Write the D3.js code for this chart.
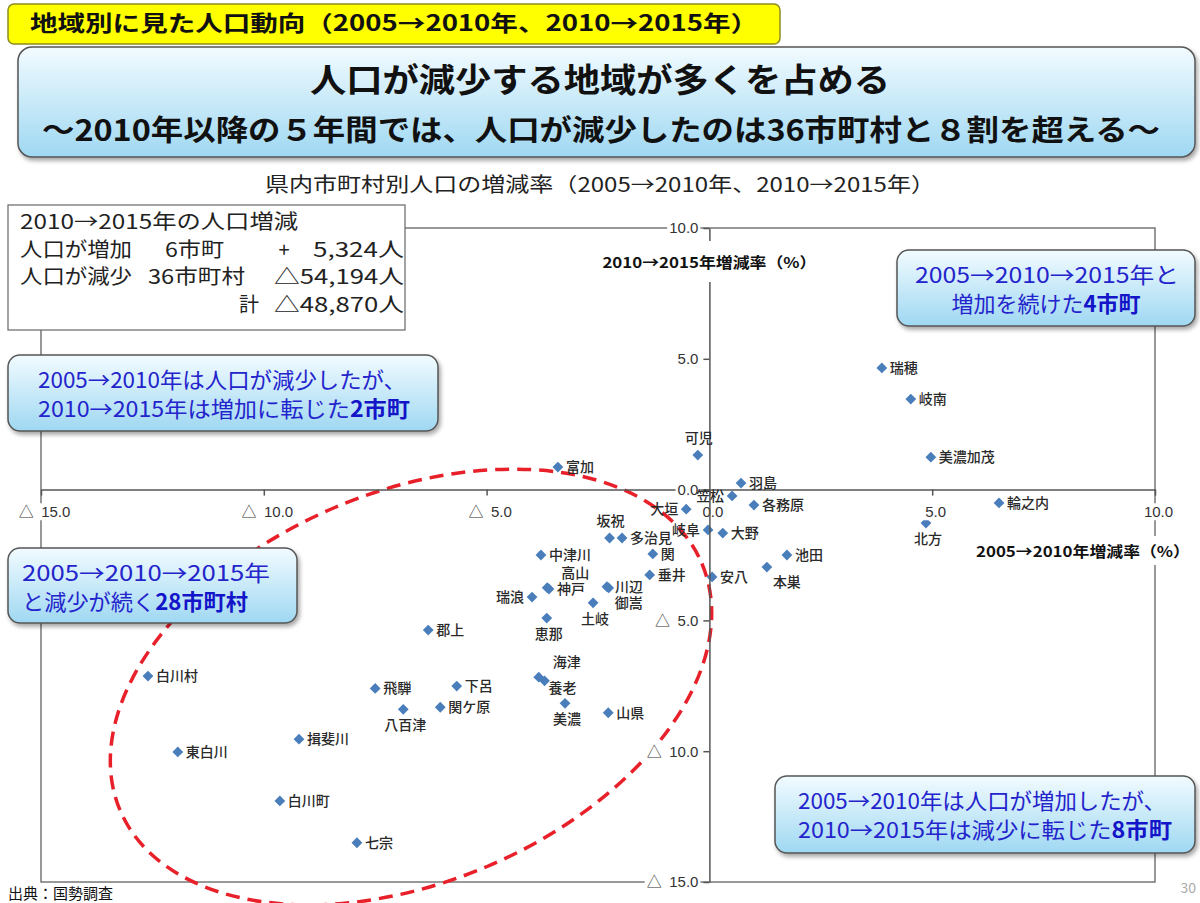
<!DOCTYPE html>
<html>
<head>
<meta charset="utf-8">
<script src="https://cdn.jsdelivr.net/npm/d3@7/dist/d3.min.js"></script>
<style>
  body { margin: 0; background: #fff; }
  svg { display: block; font-family: "Noto Sans CJK JP", "Noto Sans", sans-serif; }
</style>
</head>
<body>
<div id="chart"></div>
<script>
// municipalities, population change rate (%)
var names = ["瑞穂", "岐南", "美濃加茂", "羽島", "可児", "富加", "笠松", "各務原", "輪之内", "北方",
    "大野", "池田", "本巣", "安八", "大垣", "岐阜", "坂祝", "多治見", "関", "垂井",
    "中津川", "高山", "神戸", "瑞浪", "川辺", "御嵩", "土岐", "恵那", "郡上", "海津",
    "養老", "美濃", "山県", "白川村", "飛騨", "下呂", "八百津", "関ケ原", "揖斐川", "東白川",
    "白川町", "七宗"];
var rate0510 = [3.87, 4.52, 4.97, 0.71, -0.26, -3.40, 0.51, 1.00, 6.50, 4.86,
    0.30, 1.74, 1.29, 0.06, -0.52, -0.03, -2.24, -1.96, -1.27, -1.34,
    -3.78, -3.64, -3.60, -3.98, -2.30, -2.26, -2.61, -3.65, -6.31, -3.83,
    -3.70, -3.24, -2.27, -12.60, -7.50, -5.67, -6.87, -6.04, -9.21, -11.93,
    -9.64, -7.91];
var rate1015 = [4.65, 3.46, 1.24, 0.25, 1.32, 0.86, -0.24, -0.59, -0.51, -1.28,
    -1.66, -2.50, -2.96, -3.34, -0.75, -1.54, -1.85, -1.85, -2.46, -3.26,
    -2.50, -3.75, -3.80, -4.11, -3.71, -3.76, -4.33, -4.91, -5.37, -7.17,
    -7.31, -8.17, -8.53, -7.13, -7.60, -7.51, -8.40, -8.32, -9.54, -10.03,
    -11.90, -13.50];
// where each name sits next to its marker
var labelSide = ["r", "r", "r", "r", "a", "r", "l", "r", "r", "b",
    "r", "r", "br", "r", "l", "l", "a", "r", "r", "r",
    "r", "ar", "r", "l", "r", "br", "b", "b", "r", "ar",
    "rb", "b", "r", "r", "r", "r", "b", "r", "r", "r",
    "r", "r"];

var xTicks = [-15, -10, -5, 0, 5, 10];
var yTicks = [-15, -10, -5, 0, 5, 10];

var headerText = "地域別に見た人口動向（2005→2010年、2010→2015年）";
var titleLines = ["人口が減少する地域が多くを占める",
    "～2010年以降の５年間では、人口が減少したのは36市町村と８割を超える～"];
var subtitleText = "県内市町村別人口の増減率（2005→2010年、2010→2015年）";
var yAxisTitle = "2010→2015年増減率（%）";
var xAxisTitle = "2005→2010年増減率（%）";

var summaryRows = [
    ["2010→2015年の人口増減", "", "", ""],
    ["人口が増加", "6市町", "+", "5,324人"],
    ["人口が減少", "36市町村", "", "△54,194人"],
    ["", "", "計", "△48,870人"]
];

var calloutTexts = [
    [["2005→2010年は人口が減少したが、", ""], ["2010→2015年は増加に転じた", "2市町"]],
    [["2005→2010→2015年と", ""], ["増加を続けた", "4市町"]],
    [["2005→2010→2015年", ""], ["と減少が続く", "28市町村"]],
    [["2005→2010年は人口が増加したが、", ""], ["2010→2015年は減少に転じた", "8市町"]]
];
var sourceText = "出典：国勢調査";
var pageNo = "30";

var CHART = (function(d3) {
    var W = 1200, H = 903;
    var svg = d3.select("#chart").append("svg").attr("width", W).attr("height", H);

    var defs = svg.append("defs");
    var grad = defs.append("linearGradient").attr("id", "blueGrad")
        .attr("x1", 0).attr("y1", 0).attr("x2", 0).attr("y2", 1);
    grad.append("stop").attr("offset", "0%").attr("stop-color", "#f2fbff");
    grad.append("stop").attr("offset", "100%").attr("stop-color", "#9fd8f2");
    var shadow = defs.append("filter").attr("id", "shadow")
        .attr("x", "-5%").attr("y", "-10%").attr("width", "115%").attr("height", "130%");
    shadow.append("feDropShadow").attr("dx", 2).attr("dy", 3).attr("stdDeviation", 2)
        .attr("flood-color", "#000").attr("flood-opacity", 0.35);

    var x = d3.scaleLinear().domain([-15, 10]).range([41, 1155]);
    var y = d3.scaleLinear().domain([-15, 10]).range([882, 228]);
    var fmt = function(v) { return v < 0 ? "△\u2002" + (-v).toFixed(1) : v.toFixed(1); };

    var fitText = function(sel, len) {
        return sel.attr("textLength", len).attr("lengthAdjust", "spacingAndGlyphs");
    };

    var drawHeader = function() {
        svg.append("rect").attr("x", 8).attr("y", 4).attr("width", 772).attr("height", 40)
            .attr("rx", 6).attr("fill", "#ffff00").attr("stroke", "#8c8c20").attr("stroke-width", 1.5);
        fitText(svg.append("text").attr("x", 30).attr("y", 31).attr("font-size", 22).attr("font-weight", "bold")
            .attr("fill", "#111").text(headerText), 728);

        svg.append("rect").attr("x", 18).attr("y", 47).attr("width", 1177).attr("height", 110)
            .attr("rx", 14).attr("fill", "url(#blueGrad)").attr("stroke", "#555")
            .attr("stroke-width", 1.5).attr("filter", "url(#shadow)");
        fitText(svg.append("text").attr("x", 310).attr("y", 92).attr("font-size", 33).attr("font-weight", "bold")
            .attr("fill", "#111").text(titleLines[0]), 580);
        fitText(svg.append("text").attr("x", 42).attr("y", 141).attr("font-size", 29).attr("font-weight", "bold")
            .attr("fill", "#111").text(titleLines[1]), 1118);

        fitText(svg.append("text").attr("x", 265).attr("y", 192).attr("font-size", 20)
            .attr("fill", "#222").text(subtitleText), 670);
    };

    var withBackground = function(sel, padX, padY) {
        sel.each(function() {
            var node = this, b = node.getBBox();
            d3.select(node.parentNode).insert("rect", function() { return node; })
                .attr("x", b.x - padX).attr("y", b.y - padY)
                .attr("width", b.width + 2 * padX).attr("height", b.height + 2 * padY)
                .attr("fill", "#fff");
        });
    };

    var drawPlot = function() {
        // frame
        svg.append("rect").attr("x", x(-15)).attr("y", y(10))
            .attr("width", x(10) - x(-15)).attr("height", y(-15) - y(10))
            .attr("fill", "none").attr("stroke", "#777").attr("stroke-width", 1.5);

        // dashed ellipse round the shrinking group
        svg.append("ellipse").attr("cx", 411).attr("cy", 687).attr("rx", 316).attr("ry", 195)
            .attr("transform", "rotate(-23 411 687)")
            .attr("fill", "none").attr("stroke", "#e8202a").attr("stroke-width", 3.5)
            .attr("stroke-dasharray", "14 8");

        var xAxis = svg.append("g").attr("class", "x axis")
            .attr("transform", "translate(0," + y(0) + ")")
            .call(d3.axisBottom(x).tickValues(xTicks).tickFormat(fmt).tickSize(6).tickSizeOuter(0).tickPadding(11));
        var yAxis = svg.append("g").attr("class", "y axis")
            .attr("transform", "translate(" + x(0) + ",0)")
            .call(d3.axisLeft(y).tickValues(yTicks).tickFormat(fmt).tickSize(6).tickSizeOuter(0).tickPadding(5));

        svg.selectAll(".axis path, .axis line").attr("stroke", "#555").attr("stroke-width", 1.5);
        svg.selectAll(".axis text").attr("font-size", 15).attr("fill", "#333")
            .attr("font-family", "'Liberation Sans', 'Noto Sans CJK JP', sans-serif");
        xAxis.selectAll("text").attr("dx", 3);

        // markers
        var idx = d3.range(names.length);
        svg.append("g").selectAll("path")
            .data(idx).enter().append("path")
            .attr("d", d3.symbol().type(d3.symbolSquare).size(58))
            .attr("transform", function(i) {
                return "translate(" + x(rate0510[i]) + "," + y(rate1015[i]) + ") rotate(45)";
            })
            .attr("fill", "#4a7ebb");

        // tick labels sit on white patches, hiding lines and marks behind them
        [xAxis, yAxis].forEach(function(ax) {
            withBackground(ax.selectAll(".tick text"), 2, 0);
            ax.raise();
        });

        // axis titles
        var yt = svg.append("g");
        fitText(yt.append("text").attr("x", x(0)).attr("y", 268).attr("text-anchor", "middle")
            .attr("font-size", 15).attr("font-weight", "bold").attr("fill", "#111").text(yAxisTitle), 214);
        withBackground(yt.selectAll("text"), 4, 10);
        var xt = svg.append("g");
        fitText(xt.append("text").attr("x", 1083).attr("y", 557).attr("text-anchor", "middle")
            .attr("font-size", 15).attr("font-weight", "bold").attr("fill", "#111").text(xAxisTitle), 214);
        withBackground(xt.selectAll("text"), 2, 4);

        // municipality names
        var offs = {
            r: [8, 0, "start"], l: [-8, 0, "end"], a: [1, -17, "middle"], b: [2, 16, "middle"],
            ar: [28, -15, "middle"], br: [6, 15, "start"], rb: [4, 7, "start"]
        };
        svg.append("g").selectAll("text")
            .data(idx).enter().append("text")
            .attr("x", function(i) { return x(rate0510[i]) + offs[labelSide[i]][0]; })
            .attr("y", function(i) { return y(rate1015[i]) + offs[labelSide[i]][1]; })
            .attr("dy", "0.35em")
            .attr("text-anchor", function(i) { return offs[labelSide[i]][2]; })
            .attr("font-size", 14).attr("font-weight", 500).attr("fill", "#2a2a2a")
            .text(function(i) { return names[i]; });
    };

    var drawSummary = function() {
        svg.append("rect").attr("x", 8).attr("y", 205).attr("width", 397).attr("height", 125)
            .attr("fill", "#fff").attr("stroke", "#666").attr("stroke-width", 1.2);
        var g = svg.append("g").attr("font-size", 20).attr("fill", "#222");
        // [text, x, anchor, width]
        var cells = [
            [[summaryRows[0][0], 20, "start", 278]],
            [[summaryRows[1][0], 20, "start", 112], [summaryRows[1][1], 165, "start", 59],
             [summaryRows[1][2], 284, "middle", 0], [summaryRows[1][3], 404, "end", 91]],
            [[summaryRows[2][0], 20, "start", 112], [summaryRows[2][1], 148, "start", 97],
             [summaryRows[2][3], 404, "end", 130]],
            [[summaryRows[3][2], 249, "middle", 0], [summaryRows[3][3], 404, "end", 130]]
        ];
        cells.forEach(function(row, r) {
            var yy = 229 + r * 27.7;
            row.forEach(function(c) {
                var t = g.append("text").attr("x", c[1]).attr("y", yy).attr("text-anchor", c[2]).text(c[0]);
                if (c[3]) fitText(t, c[3]);
            });
        });
    };

    var drawCallouts = function() {
        var boxes = [
            { x: 8, y: 355, w: 430, h: 76, anchor: "start", tx: 38, lens: [368, 372] },
            { x: 897, y: 250, w: 298, h: 76, anchor: "start", tx: 915, lens: [264, 0] },
            { x: 8, y: 548, w: 289, h: 75, anchor: "start", tx: 22, lens: [248, 226] },
            { x: 775, y: 776, w: 420, h: 77, anchor: "start", tx: 798, lens: [368, 374] }
        ];
        boxes.forEach(function(b, k) {
            svg.append("rect").attr("x", b.x).attr("y", b.y).attr("width", b.w).attr("height", b.h)
                .attr("rx", 12).attr("fill", "url(#blueGrad)").attr("stroke", "#555")
                .attr("stroke-width", 1.5).attr("filter", "url(#shadow)");
            calloutTexts[k].forEach(function(line, j) {
                var t = svg.append("text").attr("y", b.y + 33 + j * 29)
                    .attr("font-size", 22).attr("fill", "#2424cc");
                if (b.lens[j]) {
                    t.attr("x", b.tx);
                    fitText(t, b.lens[j]);
                } else {
                    t.attr("x", b.x + b.w / 2).attr("text-anchor", "middle");
                }
                t.append("tspan").text(line[0]);
                if (line[1]) t.append("tspan").attr("font-weight", "bold").attr("fill", "#1414c8").text(line[1]);
            });
        });
    };

    var drawFooter = function() {
        svg.append("text").attr("x", 8).attr("y", 899).attr("font-size", 15).attr("fill", "#111").text(sourceText);
        svg.append("text").attr("x", 1196).attr("y", 893).attr("text-anchor", "end")
            .attr("font-size", 14).attr("fill", "#aaa").text(pageNo);
    };

    return { draw: function() { drawHeader(); drawPlot(); drawSummary(); drawCallouts(); drawFooter(); } };
})(d3);

CHART.draw();
</script>
</body>
</html>
